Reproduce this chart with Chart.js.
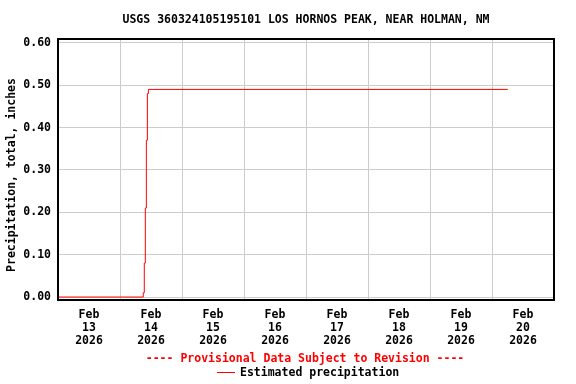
<!DOCTYPE html>
<html>
<head>
<meta charset="utf-8">
<script src="https://cdn.jsdelivr.net/npm/chart.js@4"></script>
<style>
  body { margin: 0; background: #fff; }
  #wrap { width: 576px; height: 384px; }
</style>
</head>
<body>
<div id="wrap"><canvas id="chart" width="576" height="384"></canvas></div>
<script>
// hours since Feb 13 2026 00:00 and cumulative precipitation (inches)
const hours = [0, 33.0, 33.4, 33.8, 34.2, 34.6, 35.0, 174.1];
const precip = [0.00, 0.01, 0.08, 0.21, 0.37, 0.48, 0.49, 0.49];

const dayNumbers = [13, 14, 15, 16, 17, 18, 19, 20];
const monthName = 'Feb';
const yearName = '2026';
const yTicks = [0.0, 0.1, 0.2, 0.3, 0.4, 0.5, 0.6];

const titleText = 'USGS 360324105195101 LOS HORNOS PEAK, NEAR HOLMAN, NM';
const yTitle = 'Precipitation, total, inches';
const provisionalText = '---- Provisional Data Subject to Revision ----';
const seriesName = 'Estimated precipitation';

const FONT = "'DejaVu Sans Mono', monospace";
Chart.defaults.font.family = FONT;
Chart.defaults.font.weight = 'bold';
Chart.defaults.font.size = 11.5;
Chart.defaults.color = '#000';

const points = hours.map((h, i) => ({ x: h, y: precip[i] }));

// title, axis title, frame and bottom notes
const extras = {
  id: 'extras',
  afterDraw(chart) {
    const { ctx, chartArea: a } = chart;
    ctx.save();
    ctx.strokeStyle = '#000';
    ctx.lineWidth = 2;
    ctx.strokeRect(a.left, a.top, a.right - a.left, a.bottom - a.top);

    ctx.font = 'bold 11.5px ' + FONT;
    ctx.textBaseline = 'middle';
    ctx.textAlign = 'center';
    ctx.fillStyle = '#000';
    ctx.fillText(titleText, 306, 20);

    ctx.fillStyle = 'red';
    ctx.fillText(provisionalText, 305, 359);

    ctx.fillStyle = '#000';
    ctx.textAlign = 'left';
    ctx.fillText(seriesName, 240, 373);
    ctx.strokeStyle = 'red';
    ctx.lineWidth = 1;
    ctx.beginPath();
    ctx.moveTo(217, 372.5);
    ctx.lineTo(235, 372.5);
    ctx.stroke();

    ctx.translate(12, 175);
    ctx.rotate(-Math.PI / 2);
    ctx.textAlign = 'center';
    ctx.fillStyle = '#000';
    ctx.fillText(yTitle, 0, 0);
    ctx.restore();
  }
};

new Chart(document.getElementById('chart'), {
  type: 'line',
  data: {
    datasets: [{
      label: seriesName,
      data: points,
      borderColor: 'red',
      borderWidth: 1,
      pointRadius: 0,
      stepped: true,
      fill: false
    }]
  },
  options: {
    responsive: false,
    animation: false,
    layout: { padding: { left: 0, right: 22, top: 39, bottom: 0 } },
    plugins: {
      legend: { display: false },
      title: { display: false },
      tooltip: { enabled: false }
    },
    scales: {
      x: {
        type: 'linear',
        min: 0,
        max: 192,
        afterBuildTicks: axis => {
          const t = [];
          for (let v = 0; v <= 192; v += 12) t.push({ value: v });
          axis.ticks = t;
        },
        afterFit: axis => { axis.height = 84; },
        border: { display: false },
        grid: {
          drawTicks: false,
          color: c => (c.tick && c.tick.value % 24 === 0) ? '#cccccc' : 'rgba(0,0,0,0)',
          lineWidth: 1
        },
        ticks: {
          autoSkip: false,
          maxRotation: 0,
          padding: 9,
          font: { lineHeight: 1.13 },
          callback: v => {
            if (v % 24 !== 12) return '';
            const d = dayNumbers[(v - 12) / 24];
            return [monthName, String(d), yearName];
          }
        }
      },
      y: {
        min: -0.007,
        max: 0.609,
        afterBuildTicks: axis => { axis.ticks = yTicks.map(v => ({ value: v })); },
        afterFit: axis => { axis.width = 58; },
        border: { display: false },
        grid: { drawTicks: false, color: '#cccccc', lineWidth: 1 },
        ticks: {
          padding: 7,
          callback: v => v.toFixed(2)
        }
      }
    }
  },
  plugins: [extras]
});
</script>
</body>
</html>
